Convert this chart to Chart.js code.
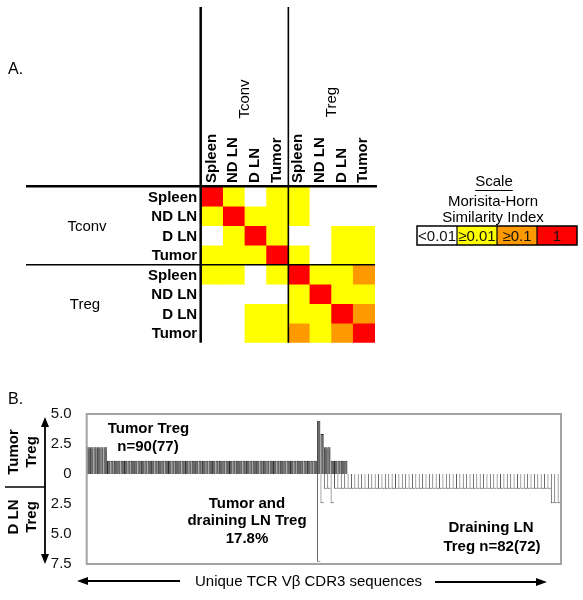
<!DOCTYPE html>
<html><head><meta charset="utf-8">
<script src="https://cdn.jsdelivr.net/npm/chart.js@4.4.0/dist/chart.umd.min.js"></script>
<style>
html,body{margin:0;padding:0;background:#fff;}
#wrap{position:relative;width:583px;height:600px;overflow:hidden;background:#fff;}
canvas{position:absolute;left:0;}
#cA{top:0;} #cB{top:390px;}
</style></head><body>
<div id="wrap"><canvas id="cA" width="583" height="390"></canvas><canvas id="cB" width="583" height="210"></canvas></div>
<script>
// ---------- Panel A data ----------
const populations = ['Tconv', 'Treg'];
const subsets = ['Spleen', 'ND LN', 'D LN', 'Tumor'];
const scaleLevels = ['<0.01', '\u22650.01', '\u22650.1', '1'];
const scaleColors = ['#ffffff', '#ffff00', '#ff9900', '#ff0000'];
// Morisita-Horn level per cell (index into scaleLevels); columns: Tconv Spleen, ND LN, D LN, Tumor, Treg Spleen, ND LN, D LN, Tumor
const tconvSpleen = [3, 1, 0, 1, 1, 0, 0, 0];
const tconvNDLN   = [1, 3, 1, 1, 1, 0, 0, 0];
const tconvDLN    = [0, 1, 3, 1, 0, 0, 1, 1];
const tconvTumor  = [1, 1, 1, 3, 1, 0, 1, 1];
const tregSpleen  = [1, 1, 0, 1, 3, 1, 1, 2];
const tregNDLN    = [0, 0, 0, 0, 1, 3, 1, 1];
const tregDLN     = [0, 0, 1, 1, 1, 1, 3, 2];
const tregTumor   = [0, 0, 1, 1, 2, 1, 2, 3];

// ---------- Panel B data (% of sequences, per unique CDR3) ----------
const tumorTreg = [
  2.22, 2.22, 2.22, 2.22, 2.22, 2.22, 1.11, 1.11, 1.11, 1.11,
  1.11, 1.11, 1.11, 1.11, 1.11, 1.11, 1.11, 1.11, 1.11, 1.11,
  1.11, 1.11, 1.11, 1.11, 1.11, 1.11, 1.11, 1.11, 1.11, 1.11,
  1.11, 1.11, 1.11, 1.11, 1.11, 1.11, 1.11, 1.11, 1.11, 1.11,
  1.11, 1.11, 1.11, 1.11, 1.11, 1.11, 1.11, 1.11, 1.11, 1.11,
  1.11, 1.11, 1.11, 1.11, 1.11, 1.11, 1.11, 1.11, 1.11, 1.11,
  1.11, 1.11, 1.11, 1.11, 1.11, 1.11, 1.11, 1.11, 4.44, 3.33,
  2.22, 2.22, 1.11, 1.11, 1.11, 1.11, 1.11, null, null, null,
  null, null, null, null, null, null, null, null, null, null,
  null, null, null, null, null, null, null, null, null, null,
  null, null, null, null, null, null, null, null, null, null,
  null, null, null, null, null, null, null, null, null, null,
  null, null, null, null, null, null, null, null, null, null,
  null, null, null, null, null, null, null, null, null, null
];
const dlnTreg = [
  null, null, null, null, null, null, null, null, null, null,
  null, null, null, null, null, null, null, null, null, null,
  null, null, null, null, null, null, null, null, null, null,
  null, null, null, null, null, null, null, null, null, null,
  null, null, null, null, null, null, null, null, null, null,
  null, null, null, null, null, null, null, null, null, null,
  null, null, null, null, null, null, null, null, -7.32, -2.44,
  -1.22, -1.22, -2.44, -1.22, -1.22, -1.22, -1.22, -1.22, -1.22, -1.22,
  -1.22, -1.22, -1.22, -1.22, -1.22, -1.22, -1.22, -1.22, -1.22, -1.22,
  -1.22, -1.22, -1.22, -1.22, -1.22, -1.22, -1.22, -1.22, -1.22, -1.22,
  -1.22, -1.22, -1.22, -1.22, -1.22, -1.22, -1.22, -1.22, -1.22, -1.22,
  -1.22, -1.22, -1.22, -1.22, -1.22, -1.22, -1.22, -1.22, -1.22, -1.22,
  -1.22, -1.22, -1.22, -1.22, -1.22, -1.22, -1.22, -1.22, -1.22, -1.22,
  -1.22, -1.22, -1.22, -1.22, -1.22, -1.22, -1.22, -2.44, -2.44, -2.44
];
const yTicks = [-7.5, -5, -2.5, 0, 2.5, 5];

const FAM = '"Liberation Sans", Arial, Helvetica, sans-serif';
Chart.defaults.font.family = FAM;

const heatRows = [tconvSpleen, tconvNDLN, tconvDLN, tconvTumor, tregSpleen, tregNDLN, tregDLN, tregTumor];
const heatLabels = [];
populations.forEach(p => subsets.forEach(s => heatLabels.push(p + ' ' + s)));

function txt(ctx, s, x, y, font, align, base, color) {
  ctx.font = font; ctx.textAlign = align || 'center'; ctx.textBaseline = base || 'middle';
  ctx.fillStyle = color || '#000'; ctx.fillText(s, x, y);
}
function rtxt(ctx, s, x, y, font, align) {
  ctx.save(); ctx.translate(x, y); ctx.rotate(-Math.PI / 2);
  txt(ctx, s, 0, 0, font, align || 'center', 'middle');
  ctx.restore();
}
function line(ctx, x1, y1, x2, y2, w, c) {
  ctx.beginPath(); ctx.moveTo(x1, y1); ctx.lineTo(x2, y2);
  ctx.lineWidth = w; ctx.strokeStyle = c || '#000'; ctx.stroke();
}
function head(ctx, x, y, dx, dy, len, half) {
  const px = -dy, py = dx;
  ctx.beginPath();
  ctx.moveTo(x, y);
  ctx.lineTo(x - dx * len + px * half, y - dy * len + py * half);
  ctx.lineTo(x - dx * len - px * half, y - dy * len - py * half);
  ctx.closePath(); ctx.fillStyle = '#000'; ctx.fill();
}

const B15 = 'bold 15px ' + FAM;
const R15 = '15px ' + FAM;

const heatDecor = {
  id: 'heatDecor',
  afterDraw(chart) {
    const { ctx, chartArea: a, scales: { x, y } } = chart;
    const mx = (x.getPixelForValue(3) + x.getPixelForValue(4)) / 2;
    const my = y.getPixelForValue(4);
    ctx.save();
    line(ctx, a.left - 1, 7, a.left - 1, a.bottom, 2.5);
    line(ctx, mx, 7, mx, a.bottom, 1.6);
    line(ctx, 26, a.top - 0.5, a.right + 2, a.top - 0.5, 2.5);
    line(ctx, 26, my, a.right, my, 1.6);
    for (let r = 0; r < 8; r++) {
      const yc = (y.getPixelForValue(r) + y.getPixelForValue(r + 1)) / 2;
      txt(ctx, subsets[r % 4], a.left - 4.5, yc + 1, B15, 'right');
    }
    txt(ctx, populations[0], 87, (y.getPixelForValue(0) + y.getPixelForValue(4)) / 2 + 1, R15);
    txt(ctx, populations[1], 85, (y.getPixelForValue(4) + y.getPixelForValue(8)) / 2 + 1, R15);
    for (let c = 0; c < 8; c++) {
      rtxt(ctx, subsets[c % 4], x.getPixelForValue(c) - 1, 183, B15, 'left');
    }
    rtxt(ctx, populations[0], (a.left + mx) / 2, 99, R15);
    rtxt(ctx, populations[1], (mx + a.right) / 2, 102, R15);
    txt(ctx, 'A.', 8, 70, '16px ' + FAM, 'left');
    txt(ctx, 'Scale', 494, 182, R15);
    const sw = ctx.measureText('Scale').width;
    line(ctx, 494 - sw / 2, 190.5, 494 + sw / 2, 190.5, 1);
    txt(ctx, 'Morisita-Horn', 493, 202, R15);
    txt(ctx, 'Similarity Index', 493, 218, R15);
    const bx = 417, by = 226, bw = 40, bh = 19;
    for (let i = 0; i < 4; i++) {
      ctx.fillStyle = scaleColors[i];
      ctx.fillRect(bx + i * bw, by, bw, bh);
    }
    ctx.lineWidth = 1.5; ctx.strokeStyle = '#000';
    ctx.strokeRect(bx, by, bw * 4, bh);
    for (let i = 1; i < 4; i++) line(ctx, bx + i * bw, by, bx + i * bw, by + bh, 1.2);
    for (let i = 0; i < 4; i++) txt(ctx, scaleLevels[i], bx + i * bw + bw / 2, by + bh / 2 + 1, R15, 'center', 'middle', '#111');
    ctx.restore();
  }
};

new Chart(document.getElementById('cA'), {
  type: 'bar',
  data: {
    labels: heatLabels,
    datasets: heatRows.map((row, r) => ({
      label: heatLabels[r],
      data: row.map(() => [r, r + 1]),
      backgroundColor: row.map(l => scaleColors[l]),
      borderWidth: 0,
      inflateAmount: 0.4,
      barPercentage: 1,
      categoryPercentage: 1
    }))
  },
  options: {
    responsive: false, animation: false, events: [],
    layout: { padding: { left: 201.7, right: 208, top: 186.7, bottom: 390 - 342.7 } },
    plugins: { legend: { display: false }, tooltip: { enabled: false } },
    scales: {
      x: { display: false, stacked: true },
      y: { display: false, min: 0, max: 8, reverse: true }
    }
  },
  plugins: [heatDecor]
});

// ---------- Panel B ----------
const OFF = 390;
const seqIds = tumorTreg.map((_, i) => 'CDR3 #' + (i + 1));
const barDecor = {
  id: 'barDecor',
  afterDraw(chart) {
    const { ctx, chartArea: a } = chart;
    ctx.save();
    ctx.lineWidth = 2; ctx.strokeStyle = '#a3a3a3';
    ctx.strokeRect(a.left, a.top, a.right - a.left, a.bottom - a.top);
    ctx.translate(0, -OFF);
    txt(ctx, 'B.', 8, 400, '16px ' + FAM, 'left');
    txt(ctx, 'Tumor Treg', 148.5, 429, B15);
    txt(ctx, 'n=90(77)', 148, 446.5, B15);
    txt(ctx, 'Tumor and', 247, 503.5, B15);
    txt(ctx, 'draining LN Treg', 247, 521, B15);
    txt(ctx, '17.8%', 247, 539, B15);
    txt(ctx, 'Draining LN', 491, 527.5, B15);
    txt(ctx, 'Treg n=82(72)', 492, 546.5, B15);
    rtxt(ctx, 'Tumor', 13.5, 452, B15);
    rtxt(ctx, 'Treg', 31.5, 452, B15);
    rtxt(ctx, 'D LN', 13.5, 517, B15);
    rtxt(ctx, 'Treg', 31.5, 517, B15);
    line(ctx, 5, 487, 45, 487, 1.5);
    line(ctx, 45, 424, 45, 557, 1.8);
    head(ctx, 45, 417, 0, -1, 10, 4);
    head(ctx, 45, 564, 0, 1, 10, 4);
    txt(ctx, 'Unique TCR V\u03b2 CDR3 sequences', 308.5, 582, R15);
    line(ctx, 86, 581, 180, 581, 1.8);
    head(ctx, 77, 581, -1, 0, 11, 4);
    line(ctx, 435, 582, 538, 582, 1.8);
    head(ctx, 547, 582, 1, 0, 11, 4);
    ctx.restore();
  }
};

new Chart(document.getElementById('cB'), {
  type: 'bar',
  data: {
    labels: seqIds,
    datasets: [
      { label: 'Tumor Treg', data: tumorTreg, backgroundColor: '#666666', borderColor: '#2a2a2a',
        borderWidth: { left: 1, top: 1, right: 0, bottom: 0 }, borderSkipped: false, inflateAmount: 0,
        barPercentage: 1, categoryPercentage: 1 },
      { label: 'D LN Treg', data: dlnTreg, backgroundColor: '#ffffff', borderColor: '#555555',
        borderWidth: { left: 1, bottom: 1, right: 0, top: 0 }, borderSkipped: false, inflateAmount: 0,
        barPercentage: 1, categoryPercentage: 1 }
    ]
  },
  options: {
    responsive: false, animation: false, events: [],
    layout: { padding: { left: 46.7, right: 22, top: 24, bottom: 36 } },
    plugins: { legend: { display: false }, tooltip: { enabled: false } },
    scales: {
      x: { display: false, stacked: true },
      y: {
        min: -7.5, max: 5,
        afterBuildTicks(s) { s.ticks = yTicks.map(v => ({ value: v })); },
        afterFit(s) { s.width = 40; },
        ticks: { padding: 15, color: '#111', font: { size: 15 },
          callback: v => v === 0 ? '0' : Math.abs(v).toFixed(1) },
        grid: { display: false, drawTicks: false },
        border: { display: false }
      }
    }
  },
  plugins: [barDecor]
});
</script>
</body></html>
